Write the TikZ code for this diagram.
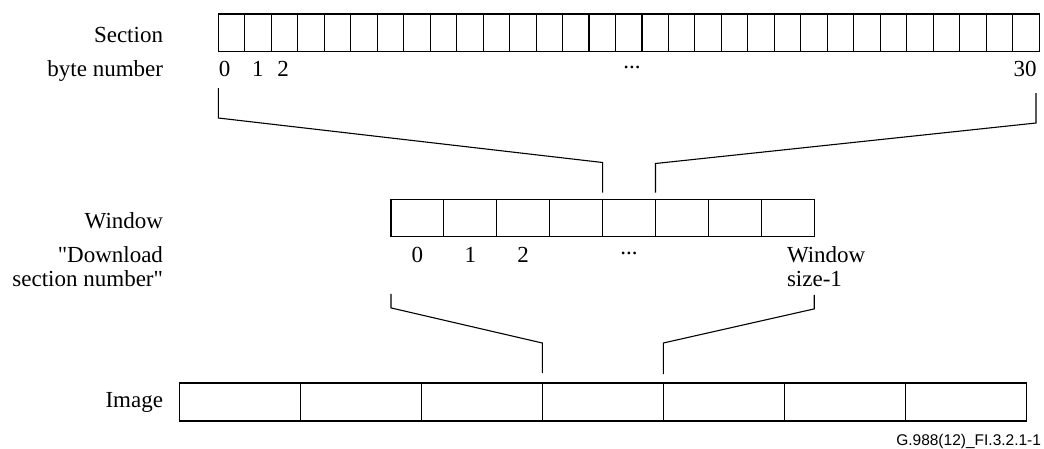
\documentclass[tikz,border=0pt]{standalone}
\usepackage{fontspec}
\setmainfont{Liberation Serif}
\newfontfamily\figidfont{Liberation Sans}
\usetikzlibrary{positioning}
\begin{document}
\begin{tikzpicture}[x=1pt,y=-1pt,line width=1.1pt,
    every node/.style={inner sep=0pt,outer sep=0pt,font=\fontsize{23}{26}\selectfont},
    cell/.style={draw,minimum height=37.4pt},
    seccell/.style={cell,minimum width=26.48pt},
    wincell/.style={cell,minimum width=52.9pt},
    imgcell/.style={cell,minimum width=121pt,minimum height=38pt}]
        \useasboundingbox (0,0) rectangle (1044,448);
        % rows of cells
        \node[seccell,anchor=north west] (s0) at (218.3,14) {};
        \foreach \i [remember=\i as \j (initially 0)] in {1,...,30} \node[seccell,right=0pt of s\j] (s\i) {};
        \node[wincell,anchor=north west] (w0) at (391,199.5) {};
        \foreach \i [remember=\i as \j (initially 0)] in {1,...,7} \node[wincell,right=0pt of w\j] (w\i) {};
        \node[imgcell,anchor=north west] (i0) at (179.3,383) {};
        \foreach \i [remember=\i as \j (initially 0)] in {1,...,6} \node[imgcell,right=0pt of i\j] (i\i) {};
        % labels
        \node[anchor=base east] (seclbl)  at (163,42)  {Section};
        \node[anchor=base east] (bytelbl) at (163,76)  {byte number};
        \node[anchor=base east] (winlbl)  at (163,228) {Window};
        \node[anchor=base east] (dllbl)   at (163,262) {\textquotedbl Download};
        \node[anchor=base east] (dsnlbl)  at (163,286) {section number\textquotedbl};
        \node[anchor=base east] (imglbl)  at (163,407) {Image};
        % numbers
        \node[anchor=base] (b0) at (224.5,76) {0};
        \node[anchor=base] (b1) at (257.8,76) {1};
        \node[anchor=base] (b2) at (283,76)   {2};
        \node (bdots) at (632,67) {...};
        \node[anchor=base] (b30) at (1025,76) {30};
        \node[anchor=base] (n0) at (417.4,262) {0};
        \node[anchor=base] (n1) at (470.3,262) {1};
        \node[anchor=base] (n2) at (523.2,262) {2};
        \node (ndots) at (629,253) {...};
        \node[anchor=base west] (nlast)  at (787,262) {Window};
        \node[anchor=base west] (nlast2) at (787,286) {size-1};
        \node[anchor=base east,font=\figidfont\fontsize{15.5}{18}\selectfont] (figid) at (1041,445) {G.988(12)\_FI.3.2.1-1};
        % brackets
        \coordinate (secL) at (218.3,88);
        \coordinate (secR) at (1036,93);
        \draw (secL) -- ++(0,30) -- ([yshift=37pt]w4.north west) -- ([yshift=7pt]w4.north west);
        \draw (secR) -- ++(0,30) -- ([yshift=36pt]w5.north west) -- ([yshift=7pt]w5.north west);
        \draw ([yshift=-57pt]w0.south west) -- ([yshift=-71pt]w0.south west) -- ([yshift=40pt]i3.north west) -- ([yshift=10pt]i3.north west);
        \draw ([yshift=-58pt]w7.south east) -- ([yshift=-72pt]w7.south east) -- ([yshift=40pt]i4.north west) -- ([yshift=9pt]i4.north west);
    \end{tikzpicture}
\end{document}
